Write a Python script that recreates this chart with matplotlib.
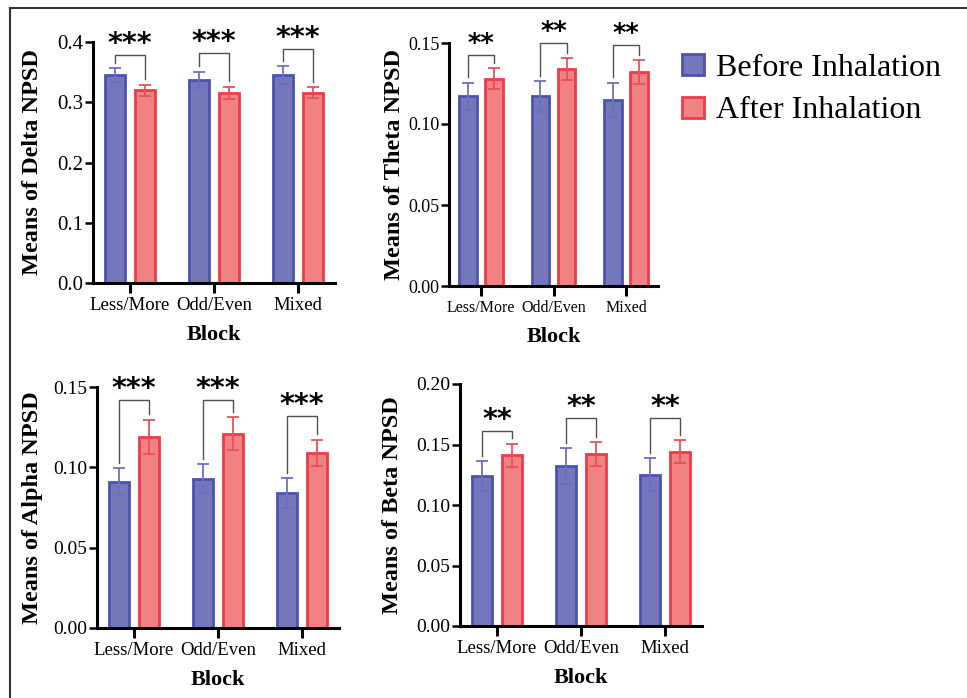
import matplotlib
matplotlib.use("Agg")
import matplotlib.pyplot as plt
import numpy as np
from matplotlib.lines import Line2D
from matplotlib.patches import Patch

plt.rcParams['font.family'] = ['Liberation Serif', 'DejaVu Serif']

blocks = ["Less/More", "Odd/Even", "Mixed"]
groups = ["Before Inhalation", "After Inhalation"]

# means and SEM
delta_before = [0.345, 0.337, 0.345]
delta_before_err = [0.012, 0.014, 0.015]
delta_after = [0.320, 0.316, 0.316]
delta_after_err = [0.009, 0.010, 0.009]

theta_before = [0.117, 0.117, 0.115]
theta_before_err = [0.0085, 0.0093, 0.0105]
theta_after = [0.128, 0.134, 0.132]
theta_after_err = [0.0066, 0.0068, 0.0072]

alpha_before = [0.091, 0.093, 0.084]
alpha_before_err = [0.0083, 0.009, 0.0093]
alpha_after = [0.119, 0.121, 0.109]
alpha_after_err = [0.0107, 0.0103, 0.0083]

beta_before = [0.124, 0.132, 0.125]
beta_before_err = [0.0124, 0.015, 0.0135]
beta_after = [0.141, 0.142, 0.144]
beta_after_err = [0.0097, 0.010, 0.0096]

# significance brackets: height and label
delta_bracket = [0.378, 0.382, 0.388]
theta_bracket = [0.1426, 0.1498, 0.1488]
alpha_bracket = [0.1418, 0.1418, 0.1318]
beta_bracket = [0.1608, 0.172, 0.172]
delta_sig = ["***", "***", "***"]
theta_sig = ["**", "**", "**"]
alpha_sig = ["***", "***", "***"]
beta_sig = ["**", "**", "**"]

# label, before, err, after, err, bracket, sig, ymax, yticks, fmt,
# box(px: left, right, top, bottom), ylabel x(px), tick font, cat font, star font
panels = [
    ("Means of Delta NPSD", delta_before, delta_before_err, delta_after, delta_after_err,
     delta_bracket, delta_sig, 0.4, [0.0, 0.1, 0.2, 0.3, 0.4], "%.1f",
     [93, 335, 42, 283], 43, 15, 13.5, 20.5),
    ("Means of Theta NPSD", theta_before, theta_before_err, theta_after, theta_after_err,
     theta_bracket, theta_sig, 0.15, [0.0, 0.05, 0.10, 0.15], "%.2f",
     [449, 658, 43, 286], 405, 13, 11.5, 18.5),
    ("Means of Alpha NPSD", alpha_before, alpha_before_err, alpha_after, alpha_after_err,
     alpha_bracket, alpha_sig, 0.15, [0.0, 0.05, 0.10, 0.15], "%.2f",
     [97, 339, 387, 628], 43, 14, 13.5, 20.5),
    ("Means of Beta NPSD", beta_before, beta_before_err, beta_after, beta_after_err,
     beta_bracket, beta_sig, 0.20, [0.0, 0.05, 0.10, 0.15, 0.20], "%.2f",
     [460, 702, 384, 626], 403, 14, 13.5, 20.5),
]

blue_fill = "#7478bb"
blue_edge = "#4d52b0"
blue_err = "#6c70c4"
red_fill = "#f18284"
red_edge = "#ef3b47"
red_err = "#ec5058"

W, H = 967, 698
fig = plt.figure(figsize=(W / 100, H / 100), dpi=100)

x = np.arange(len(blocks))
bw = 0.24
off = 0.18

for (ylabel, b, be, a, ae, brk, sig, ymax, yticks, fmt, box, ylx, tfs, cfs, sfs) in panels:
    l, r, t, bt = box
    ax = fig.add_axes([l / W, 1 - bt / H, (r - l) / W, (bt - t) / H])
    ax.bar(x - off, b, bw, color=blue_fill, edgecolor=blue_edge, linewidth=2)
    ax.bar(x + off, a, bw, color=red_fill, edgecolor=red_edge, linewidth=2)
    ax.errorbar(x - off, b, yerr=be, fmt='none', ecolor=blue_err, elinewidth=1.3, capsize=4, capthick=1.3)
    ax.errorbar(x + off, a, yerr=ae, fmt='none', ecolor=red_err, elinewidth=1.3, capsize=4, capthick=1.3)

    gap = ymax * 0.022
    for i in range(len(blocks)):
        yb = brk[i]
        ax.plot([x[i] - off, x[i] - off, x[i] + off, x[i] + off],
                [b[i] + be[i] + gap, yb, yb, a[i] + ae[i] + gap],
                color="#505050", lw=1.0, clip_on=False)
        ax.annotate(sig[i], (x[i], yb), xytext=(0, -2), textcoords='offset points',
                    ha='center', va='bottom', fontsize=sfs, fontweight='bold',
                    family='DejaVu Sans', annotation_clip=False)

    ax.set_xlim(-0.44, 2.44)
    ax.set_ylim(0, ymax)
    ax.set_yticks(yticks)
    ax.set_yticklabels([fmt % v for v in yticks])
    ax.set_xticks(x)
    ax.set_xticklabels(blocks)
    for s in ['top', 'right']:
        ax.spines[s].set_visible(False)
    for s in ['left', 'bottom']:
        ax.spines[s].set_linewidth(2.2)
    ax.tick_params(axis='y', length=6, width=1.8, labelsize=tfs, pad=1)
    ax.tick_params(axis='x', length=7, width=2.2, labelsize=cfs, pad=3)
    ax.set_ylabel(ylabel, fontsize=17.5, fontweight='bold')
    ax.yaxis.set_label_coords((ylx - l) / (r - l), 0.5)
    ax.set_xlabel("Block", fontsize=16, fontweight='bold', labelpad=8)

handles = [Patch(facecolor=blue_fill, edgecolor=blue_edge, linewidth=2),
           Patch(facecolor=red_fill, edgecolor=red_edge, linewidth=2)]
fig.legend(handles, groups, loc='upper left', bbox_to_anchor=(682 / W, 1 - 54 / H),
           frameon=False, fontsize=23, handlelength=0.68, handleheight=0.62,
           handletextpad=0.4, labelspacing=0.42, borderaxespad=0, borderpad=0)

# outer frame
fig.add_artist(Line2D([10 / W, 1], [1 - 8 / H, 1 - 8 / H], color="#333333", lw=1.5))
fig.add_artist(Line2D([10 / W, 10 / W], [0, 1 - 8 / H], color="#333333", lw=1.5))

fig.savefig("out.png", dpi=100)
